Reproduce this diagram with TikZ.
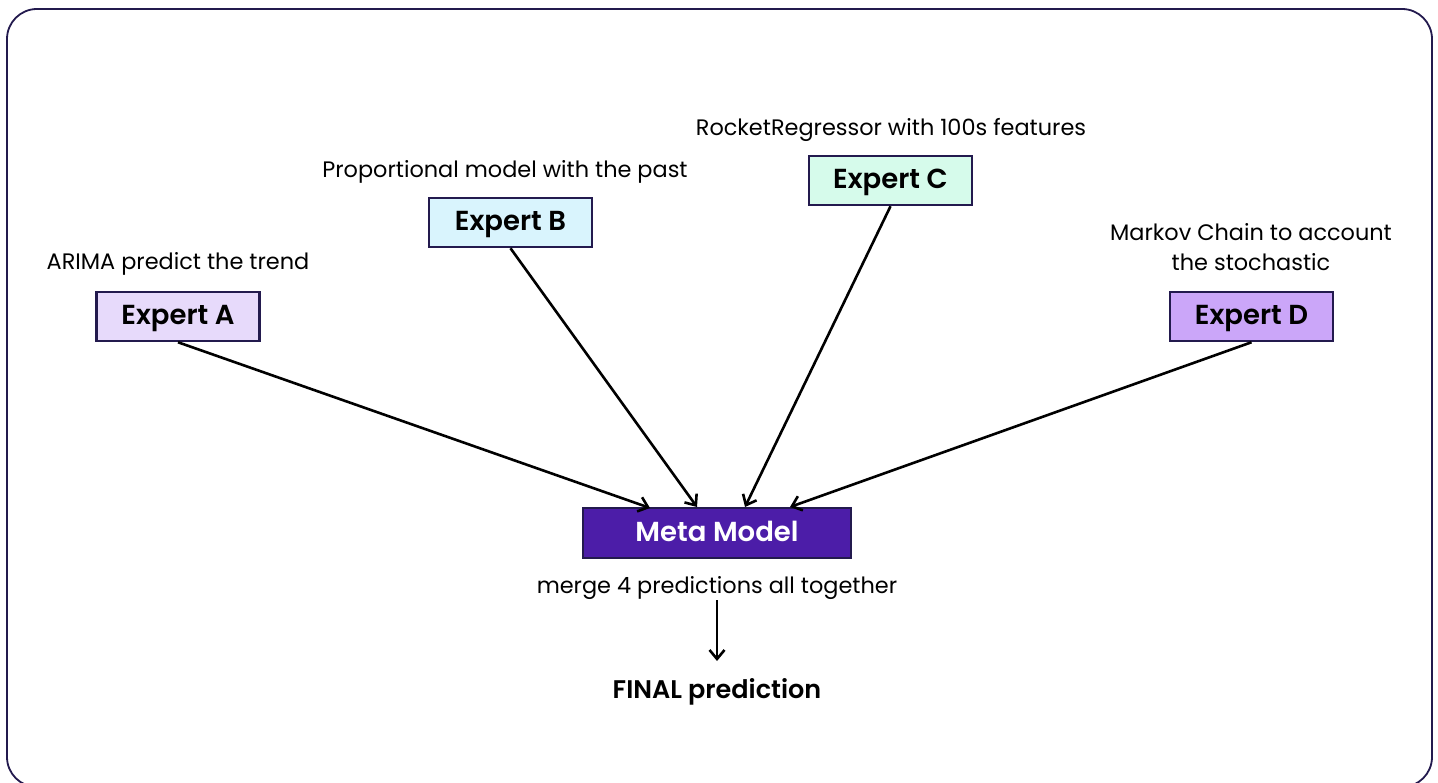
\documentclass[tikz,border=0pt]{standalone}
\usepackage{fontspec}
\setmainfont{Poppins}[BoldFont={Poppins SemiBold}]
\usetikzlibrary{arrows.meta}
\definecolor{frame}{HTML}{231A4E}
\definecolor{fillA}{HTML}{E7DAFB}
\definecolor{fillB}{HTML}{D9F4FD}
\definecolor{fillC}{HTML}{D6FBEB}
\definecolor{fillD}{HTML}{CBA6F9}
\definecolor{fillM}{HTML}{4C1DA8}
\tikzset{
  expert/.style={draw=frame, line width=2.5pt, minimum width=163pt, minimum height=49pt, inner sep=0pt, text height=15.5pt, text depth=0pt, font=\fontsize{27.5}{32}\selectfont\bfseries},
  lbl/.style={inner sep=0pt, font=\fontsize{22.4}{30}\selectfont, align=center},
  conn/.style={line width=2.6pt, -{Straight Barb[length=9pt,width=15pt,line width=2.6pt]}},
}
\begin{document}
\begin{tikzpicture}[x=1pt,y=-1pt]
\useasboundingbox (0,0) rectangle (1438,783);
\draw[frame, line width=1.8pt, rounded corners=30pt] (7,9) rectangle (1432,787);
\node[expert, fill=fillA] (A) at (178,316.5) {Expert A};
\node[expert, fill=fillB] (B) at (510.5,222.5) {Expert B};
\node[expert, fill=fillC] (C) at (890.5,180.5) {Expert C};
\node[expert, fill=fillD] (D) at (1251.5,316.5) {Expert D};
\node[expert, fill=fillM, minimum width=268pt, minimum height=50pt, text height=17pt, text=white] (M) at (717,533) {Meta Model};
\node[lbl] (la) at (178,264) {ARIMA predict the trend};
\node[lbl] (lb) at (505,172) {Proportional model with the past};
\node[lbl] (lc) at (891,130) {RocketRegressor with 100s features};
\node[lbl] (ld) at (1251,247) {Markov Chain to account\\the stochastic};
\node[lbl] (lm) at (717,588) {merge 4 predictions all together};
\node[lbl, font=\fontsize{25.5}{30}\selectfont\bfseries] (F) at (717,692) {FINAL prediction};
\coordinate (ta) at (650,508);
\coordinate (tb) at (697,507);
\coordinate (tc) at (745,507);
\coordinate (td) at (790,507);
\draw[conn] (A.south) -- (ta);
\draw[conn] (B.south) -- (tb);
\draw[conn] (C.south) -- (tc);
\draw[conn] (D.south) -- (td);
\coordinate (fs) at (717,600);
\coordinate (fe) at (717,661);
\draw[conn] (fs) -- (fe);
\end{tikzpicture}
\end{document}
